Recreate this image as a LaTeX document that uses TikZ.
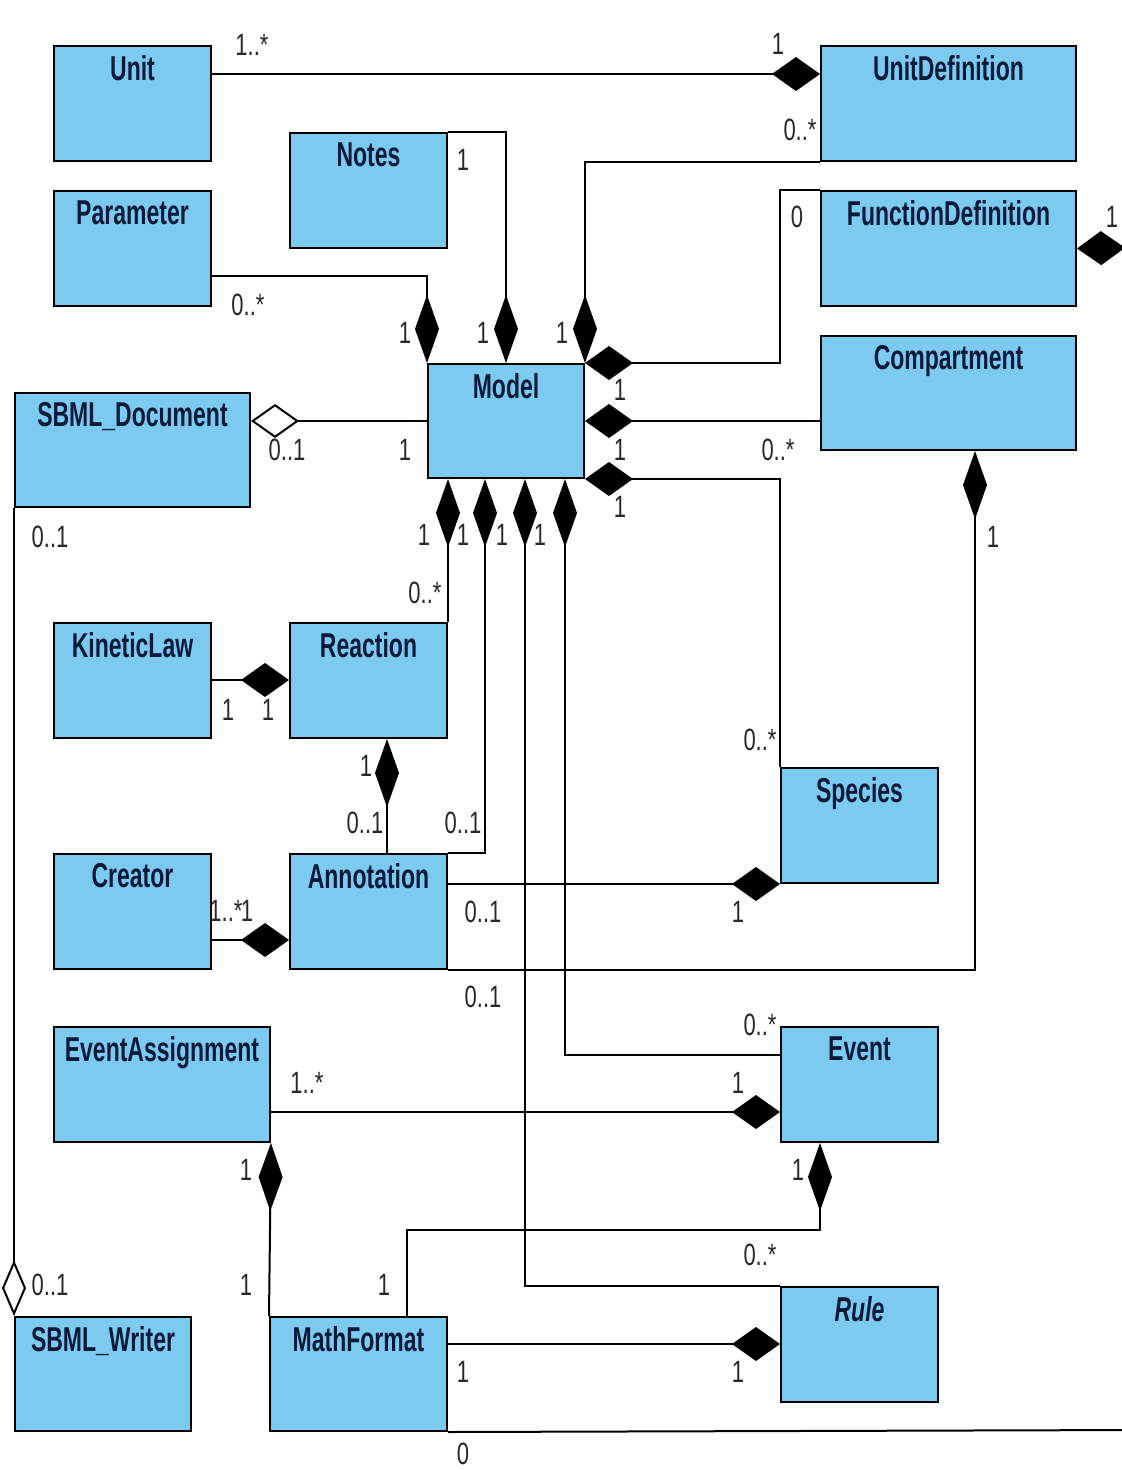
\documentclass[tikz,border=0pt]{standalone}
\usepackage{fontspec}
\setmainfont{Liberation Sans}
\usetikzlibrary{arrows.meta,calc}

\definecolor{classfill}{RGB}{124,202,240}
\definecolor{classtext}{RGB}{12,26,58}
\definecolor{multtext}{RGB}{40,40,40}

% class titles: condensed look, stretched vertically
\newcommand\classname[1]{\scalebox{1}[1.5]{\fontsize{11.5}{13}\selectfont\bfseries #1}}
% multiplicity labels
\newcommand\multtxt[1]{\scalebox{1}[1.4]{\fontsize{11}{13}\selectfont #1}}
% a class box: name, left, top, width, height, title
\newcommand\classbox[6]{%
  \node[cls, minimum width=#4*0.5pt, minimum height=#5*0.5pt,
        label={[name=#1-t, anchor=north, inner sep=0pt, yshift=-5pt, text=classtext]north:\classname{#6}}]
        (#1) at (#2,#3) {};}
% a multiplicity: name, x, y, text
\newcommand\mlt[4]{\node[mult] (#1) at (#2,#3) {\multtxt{#4}};}

\begin{document}
\begin{tikzpicture}[x=0.5pt,y=-0.5pt,
  cls/.style={draw=black, line width=1pt, fill=classfill, inner sep=0pt, anchor=north west},
  mult/.style={inner sep=0pt, text=multtext},
  link/.style={line width=1pt, line join=miter},
  hcomp/.style={link, -{Diamond[length=24pt,width=17pt]}},
  vcomp/.style={link, -{Diamond[length=34pt,width=12pt]}},
  haggr/.style={link, -{Diamond[open,length=24pt,width=17pt]}},
  vaggr/.style={link, -{Diamond[open,length=28pt,width=12pt]}},
]
\useasboundingbox[fill=white] (0,0) rectangle (1122,1470);

% ---------- classes ----------
\classbox{unit}{53}{45}{157}{115}{Unit}
\classbox{unitdef}{820}{45}{255}{115}{UnitDefinition}
\classbox{notes}{289}{132}{157}{115}{Notes}
\classbox{param}{53}{190}{157}{115}{Parameter}
\classbox{funcdef}{820}{190}{255}{115}{FunctionDefinition}
\classbox{comp}{820}{335}{255}{114}{Compartment}
\classbox{model}{427}{363}{156}{114}{Model}
\classbox{sbmldoc}{14}{392}{235}{114}{SBML\_Document}
\classbox{kinetic}{53}{622}{157}{115}{KineticLaw}
\classbox{reaction}{289}{622}{157}{115}{Reaction}
\classbox{species}{780}{767}{157}{115}{Species}
\classbox{creator}{53}{853}{157}{115}{Creator}
\classbox{annot}{289}{853}{157}{115}{Annotation}
\classbox{evassign}{53}{1026}{216}{115}{EventAssignment}
\classbox{event}{780}{1026}{157}{115}{Event}
\classbox{rule}{780}{1286}{157}{115}{\itshape Rule}
\classbox{writer}{14}{1316}{176}{114}{SBML\_Writer}
\classbox{math}{269}{1316}{177}{114}{MathFormat}

% ---------- associations ----------
% Unit -- UnitDefinition
\draw[hcomp] ($(unit.north east)+(0,29)$) coordinate (uu) -- (uu -| unitdef.west);
% UnitDefinition -- Model
\draw[vcomp] (unitdef.south west) -| (model.north east);
% Notes -- Model
\draw[vcomp] (notes.north east) -| (model.north);
% Parameter -- Model
\draw[vcomp] ($(param.north east)+(0,86)$) -| (model.north west);
% FunctionDefinition -- Model
\draw[hcomp] (funcdef.north west) -- ++(-40,0) |- (model.north east);
% Compartment -- Model
\draw[hcomp] (model.east -| comp.west) -- (model.east);
% Species -- Model
\draw[hcomp] (species.north west) |- (model.south east);
% SBML_Document -- Model
\draw[haggr] (model.west) -- (model.west -| sbmldoc.east);
% SBML_Document -- SBML_Writer
\draw[vaggr] (sbmldoc.south west) -- (writer.north west);
% Reaction -- Model
\draw[vcomp] (reaction.north east) -- (reaction.north east |- model.south);
% Annotation -- Model
\draw[vcomp] (annot.north east) -| ($(model.south west)+(58,0)$);
% Rule -- Model
\draw[vcomp] (rule.north west) -| ($(model.south west)+(98,0)$);
% Event -- Model
\draw[vcomp] ($(event.north west)+(0,29)$) -| ($(model.south west)+(138,0)$);
% KineticLaw -- Reaction
\draw[hcomp] ($(kinetic.north east)+(0,58)$) coordinate (kr) -- (kr -| reaction.west);
% Annotation -- Reaction
\draw[vcomp] ($(annot.north west)+(98,0)$) coordinate (ar) -- (ar |- reaction.south);
% Creator -- Annotation
\draw[hcomp] ($(creator.north east)+(0,87)$) coordinate (ca) -- (ca -| annot.west);
% Annotation -- Species
\draw[hcomp] (species.south west -| annot.east) -- (species.south west);
% Annotation -- Compartment
\draw[vcomp] (annot.south east) -| ($(comp.south west)+(155,0)$);
% EventAssignment -- Event
\draw[hcomp] ($(evassign.north east)+(0,86)$) coordinate (ee) -- (ee -| event.west);
% MathFormat -- EventAssignment
\draw[vcomp] (math.north west) -- (evassign.south east);
% MathFormat -- Event
\coordinate (evb) at ($(event.south west)+(40,0)$);
\draw[vcomp] ($(math.north west)+(138,0)$) |- ($(evb)+(0,87)$) -- (evb);
% MathFormat -- Rule
\draw[hcomp] ($(math.north east)+(0,28)$) coordinate (mr) -- (mr -| rule.west);
% MathFormat -- FunctionDefinition (running off the right edge)
\coordinate (edgeA) at (1140,1430);
\draw[link] (math.south east) -- (edgeA);
\coordinate (edgeB) at (1140,247.5);
\draw[hcomp] (edgeB) -- (funcdef.east);

% ---------- multiplicities ----------
\mlt{m1}{252}{45}{1..*}
\mlt{m2}{778}{44}{1}
\mlt{m3}{800}{130}{0..*}
\mlt{m4}{562}{333}{1}
\mlt{m5}{463}{160}{1}
\mlt{m6}{483}{333}{1}
\mlt{m7}{248}{305}{0..*}
\mlt{m8}{405}{333}{1}
\mlt{m9}{797}{217}{0}
\mlt{m10}{620}{390}{1}
\mlt{m11}{620}{450}{1}
\mlt{m12}{778}{450}{0..*}
\mlt{m13}{620}{507}{1}
\mlt{m14}{760}{740}{0..*}
\mlt{m15}{287}{450}{0..1}
\mlt{m16}{405}{450}{1}
\mlt{m17}{50}{537}{0..1}
\mlt{m18}{50}{1285}{0..1}
\mlt{m19}{424}{535}{1}
\mlt{m20}{425}{593}{0..*}
\mlt{m21}{463}{535}{1}
\mlt{m22}{463}{823}{0..1}
\mlt{m23}{502}{535}{1}
\mlt{m24}{760}{1255}{0..*}
\mlt{m25}{540}{535}{1}
\mlt{m26}{760}{1025}{0..*}
\mlt{m27}{228}{710}{1}
\mlt{m28}{268}{710}{1}
\mlt{m29}{366}{766}{1}
\mlt{m30}{365}{823}{0..1}
\mlt{m31}{226}{911}{1..*}
\mlt{m32}{247}{911}{1}
\mlt{m33}{483}{912}{0..1}
\mlt{m34}{738}{912}{1}
\mlt{m35}{483}{997}{0..1}
\mlt{m36}{993}{537}{1}
\mlt{m37}{307}{1083}{1..*}
\mlt{m38}{738}{1083}{1}
\mlt{m39}{246}{1170}{1}
\mlt{m40}{246}{1285}{1}
\mlt{m41}{384}{1285}{1}
\mlt{m42}{798}{1170}{1}
\mlt{m43}{463}{1372}{1}
\mlt{m44}{738}{1372}{1}
\mlt{m45}{463}{1454}{0}
\mlt{m46}{1112}{217}{1}
\end{tikzpicture}
\end{document}
